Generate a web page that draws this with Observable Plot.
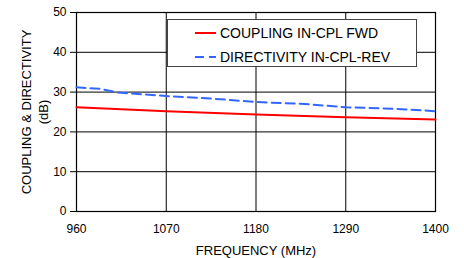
<!DOCTYPE html>
<html>
<head>
<meta charset="utf-8">
<script src="https://cdn.jsdelivr.net/npm/d3@7"></script>
<script src="https://cdn.jsdelivr.net/npm/@observablehq/plot@0.6"></script>
<style>
  html, body { margin: 0; padding: 0; background: #fff; }
  #wrap { position: relative; width: 464px; height: 258px; font-family: "Liberation Sans", Arial, sans-serif; }
  #legend { position: absolute; left: 167px; top: 19px; width: 250px; height: 48px; background: #fff; border: 1px solid #444; box-sizing: border-box; font-size: 14px; color: #000; }
  .item { position: absolute; left: 27px; height: 16px; display: flex; align-items: center; }
  .item svg { margin-right: 4px; }
</style>
</head>
<body>
<div id="wrap"></div>
<script>
const xTicks = [960, 1070, 1180, 1290, 1400];
const yTicks = [0, 10, 20, 30, 40, 50];

const couplingFreq = [960, 1070, 1180, 1290, 1400];
const couplingVal  = [26.2, 25.2, 24.4, 23.7, 23.1];

const directivityFreq = [960, 990, 1010, 1070, 1130, 1180, 1240, 1290, 1350, 1400];
const directivityVal  = [31.2, 30.8, 29.9, 29.0, 28.3, 27.5, 27.0, 26.2, 25.8, 25.2];

const seriesNames = ["COUPLING IN-CPL FWD", "DIRECTIVITY IN-CPL-REV"];
const seriesColors = ["#ff0000", "#3366ff"];

const coupling = couplingFreq.map((f, i) => ({f, v: couplingVal[i]}));
const directivity = directivityFreq.map((f, i) => ({f, v: directivityVal[i]}));

const chart = Plot.plot({
  width: 464,
  height: 258,
  marginLeft: 76,
  marginRight: 29,
  marginTop: 12,
  marginBottom: 47,
  style: { fontFamily: "'Liberation Sans', Arial, sans-serif", fontSize: "12px", background: "#fff", color: "#000" },
  x: { domain: [960, 1400], ticks: xTicks, tickFormat: d => String(d), label: null },
  y: { domain: [0, 50], ticks: yTicks, label: null },
  marks: [
    Plot.gridY(yTicks, { stroke: "#000", strokeOpacity: 1 }),
    Plot.gridX(xTicks, { stroke: "#000", strokeOpacity: 1 }),
    Plot.axisY(yTicks, { tickSize: 6, tickPadding: 4, fontSize: 12 }),
    Plot.axisX(xTicks, { tickSize: 0, tickPadding: 13, fontSize: 12, tickFormat: d => String(d) }),
    Plot.frame({ stroke: "#000", strokeWidth: 1.2 }),
    Plot.line(directivity, { x: "f", y: "v", stroke: seriesColors[1], strokeWidth: 2, strokeDasharray: "9,5", curve: "linear" }),
    Plot.line(coupling, { x: "f", y: "v", stroke: seriesColors[0], strokeWidth: 2 }),
    Plot.text(["COUPLING & DIRECTIVITY\n(dB)"], { frameAnchor: "left", rotate: -90, dx: -42.5, fontSize: 13, lineHeight: 1.3, textAnchor: "middle", lineAnchor: "middle" }),
    Plot.text(["FREQUENCY (MHz)"], { frameAnchor: "bottom", dy: 39.5, fontSize: 13, textAnchor: "middle", lineAnchor: "middle" })
  ]
});

const wrap = document.getElementById("wrap");
wrap.appendChild(chart);

const legend = document.createElement("div");
legend.id = "legend";
const tops = [5, 29];
seriesNames.forEach((name, i) => {
  const item = document.createElement("div");
  item.className = "item";
  item.style.top = tops[i] + "px";
  const dash = i === 1 ? 'stroke-dasharray="9,5"' : '';
  item.innerHTML = `<svg width="21" height="4"><line x1="0" y1="2" x2="21" y2="2" stroke="${seriesColors[i]}" stroke-width="2" ${dash}/></svg><span>${name}</span>`;
  legend.appendChild(item);
});
wrap.appendChild(legend);
</script>
</body>
</html>
